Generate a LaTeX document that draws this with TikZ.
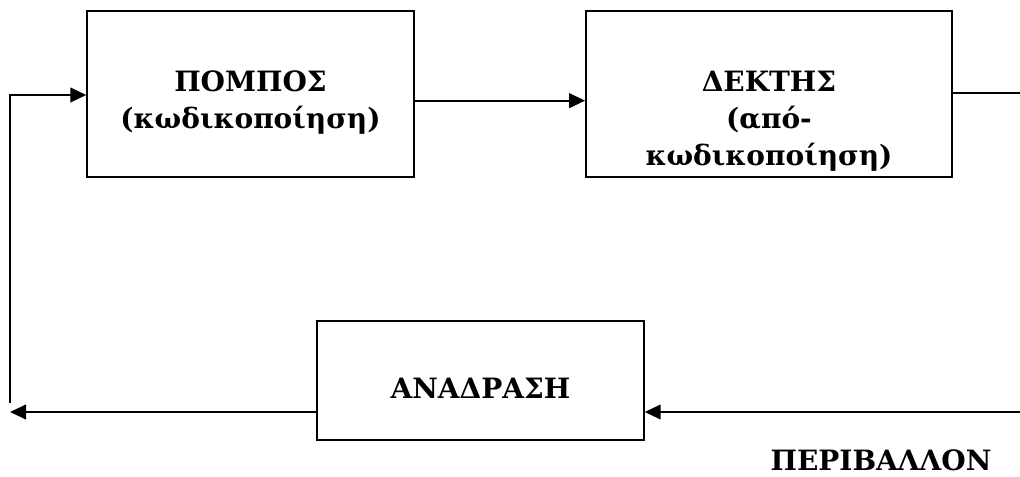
\documentclass[tikz,border=0pt]{standalone}
\usepackage{fontspec}
\setmainfont{DejaVu Serif}
\usetikzlibrary{arrows.meta}
\usetikzlibrary{positioning}

\begin{document}
\begin{tikzpicture}[x=0.75pt,y=-0.75pt,>={Triangle[length=12pt,width=11pt]},line width=1.4pt,
    box node/.style={rectangle,draw,line width=1.3pt,minimum width=245pt,minimum height=124.5pt},
    label node/.style={font=\fontsize{21}{27.75}\selectfont\bfseries,align=center,inner sep=0pt}]
   \useasboundingbox (0,0) rectangle (1020,477);
   % the three blocks
   \node[box node] (pom) at (250.5,94) {};
   \node[box node,minimum width=274.5pt] (dek) at (769,94) {};
   \node[box node,minimum height=89pt] (ana) at (480.5,380.5) {};
   \node[label node,anchor=north] (pomtxt) at (250.5,70) {ΠΟΜΠΟΣ\\(κωδικοποίηση)};
   \node[label node,anchor=north] (dektxt) at (769,70) {ΔΕΚΤΗΣ\\(από-\\κωδικοποίηση)};
   \node[label node,anchor=north] (anatxt) at (480.5,377) {ΑΝΑΔΡΑΣΗ};
   \node[label node,anchor=north] (env) at (881,449) {ΠΕΡΙΒΑΛΛΟΝ};
   % free ends
   \coordinate (out) at (1020,93);
   \coordinate (in) at (1020,412);
   \coordinate (fb) at (10,412);
   \coordinate (c1) at (10,403);
   \coordinate (c2) at (10,95);
    \path[->] ([yshift=-5pt]pom.east) edge ([yshift=-5pt]dek.west);
    \path[-] (dek.east |- out) edge (out);
    \path[->] (in) edge (in -| ana.east);
    \path[->] (ana.west |- fb) edge (fb);
    \draw[->] (c1) -- (c2) -- (c2 -| pom.west);
\end{tikzpicture}
\end{document}
